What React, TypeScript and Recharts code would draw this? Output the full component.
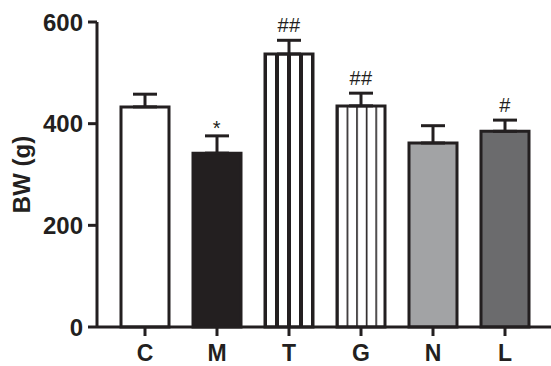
import {
  ComposedChart,
  Bar,
  Line,
  Cell,
  ErrorBar,
  LabelList,
  XAxis,
  YAxis,
} from "recharts";

const groups = ["C", "M", "T", "G", "N", "L"];
const meanBW = [433, 342, 537, 435, 362, 385];
const semBW = [25, 34, 27, 25, 34, 22];
const marks = ["", "*", "##", "##", "", "#"];
const yTicks = [0, 200, 400, 600];

const ink = "#231f20";
const fills = [
  "#ffffff",
  ink,
  "url(#thickStripes)",
  "url(#thinStripes)",
  "#a2a3a5",
  "#6b6b6d",
];

const data = groups.map((g, i) => ({
  group: g,
  bw: meanBW[i],
  err: [0, semBW[i]],
  top: meanBW[i] + semBW[i],
  mark: marks[i],
}));

const font = "'Liberation Sans', Arial, sans-serif";

// significance marks sit a few px above the error cap; the asterisk glyph
// rides high in its em box so it gets pulled down a bit
function MarkLabel(props: any) {
  const { x, y, value } = props;
  if (!value) return null;
  const lift = value === "*" ? 1 : 8;
  return (
    <text
      x={x}
      y={y - lift}
      textAnchor="middle"
      fill={ink}
      fontSize={20}
      fontFamily={font}
      letterSpacing={0.5}
    >
      {value}
    </text>
  );
}

export default function App() {
  return (
    <div style={{ position: "absolute", left: 0, top: 0, fontFamily: font }}>
      <ComposedChart
        width={551}
        height={366}
        data={data}
        margin={{ top: 22, right: 0, left: 0, bottom: 0 }}
      >
        <defs>
          <pattern
            id="thickStripes"
            patternUnits="objectBoundingBox"
            width={0.25}
            height={1}
          >
            <rect x={0} y={0} width={100} height={1000} fill="#ffffff" />
            <rect x={0} y={0} width={2} height={1000} fill={ink} />
            <rect x={10} y={0} width={2} height={1000} fill={ink} />
          </pattern>
          <pattern
            id="thinStripes"
            patternUnits="objectBoundingBox"
            width={0.2}
            height={1}
          >
            <rect x={0} y={0} width={100} height={1000} fill="#ffffff" />
            <rect x={0} y={0} width={1.6} height={1000} fill={ink} />
          </pattern>
        </defs>
        <XAxis
          dataKey="group"
          padding={{ left: 12, right: 10 }}
          height={39}
          tickSize={9}
          tickMargin={9}
          axisLine={{ stroke: ink, strokeWidth: 3 }}
          tickLine={{ stroke: ink, strokeWidth: 3 }}
          tick={{ fill: ink, fontSize: 23, fontWeight: 700, fontFamily: font }}
        />
        <YAxis
          domain={[0, 600]}
          ticks={yTicks}
          width={97}
          tickSize={9}
          tickMargin={5}
          axisLine={{ stroke: ink, strokeWidth: 3 }}
          tickLine={{ stroke: ink, strokeWidth: 3 }}
          tick={{ fill: ink, fontSize: 24, fontWeight: 700, fontFamily: font }}
          label={{
            value: "BW (g)",
            angle: -90,
            position: "insideLeft",
            offset: 21,
            style: {
              textAnchor: "middle",
              fill: ink,
              fontSize: 24,
              fontWeight: 700,
              fontFamily: font,
            },
          }}
        />
        <Bar
          dataKey="bw"
          barSize={48}
          stroke={ink}
          strokeWidth={3}
          isAnimationActive={false}
        >
          {data.map((d, i) => (
            <Cell key={d.group} fill={fills[i]} />
          ))}
          <ErrorBar
            dataKey="err"
            direction="y"
            width={12}
            stroke={ink}
            strokeWidth={3}
          />
        </Bar>
        <Line
          dataKey="top"
          stroke="none"
          dot={false}
          activeDot={false}
          legendType="none"
          isAnimationActive={false}
        >
          <LabelList dataKey="mark" content={<MarkLabel />} />
        </Line>
      </ComposedChart>
    </div>
  );
}
